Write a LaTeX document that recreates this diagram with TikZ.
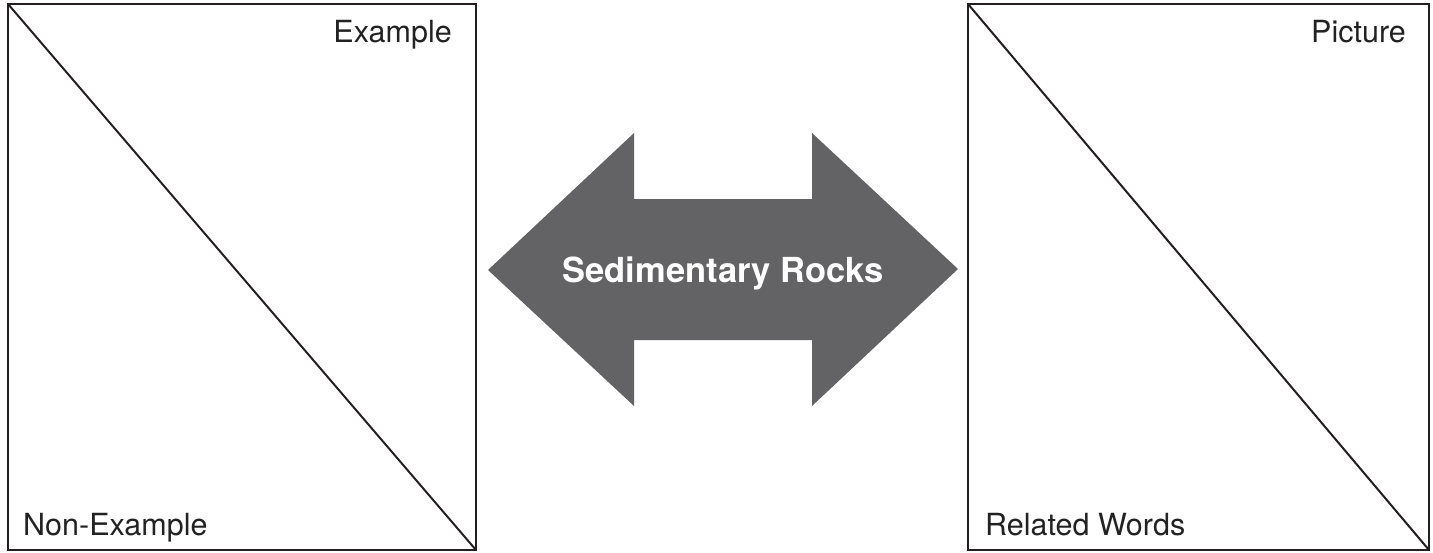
\documentclass[tikz,border=0pt]{standalone}
\usepackage{fontspec}
\setsansfont{TeX Gyre Heros}
\definecolor{framegray}{HTML}{231F20}
\definecolor{arrowgray}{HTML}{636365}
\definecolor{textgray}{HTML}{222222}
\tikzset{
	frame/.style = {draw=framegray, line width=2pt},
	corner/.style = {inner sep=0pt, text=textgray, font=\sffamily\fontsize{30.5}{36}\selectfont},
	title/.style = {inner sep=0pt, text=white, font=\sffamily\bfseries\fontsize{34.5}{40}\selectfont}
}
\begin{document}
\begin{tikzpicture}[x = 1pt, y = -1pt]
		\useasboundingbox (0,0) rectangle (1433,552);
		% left square
		\path [frame] (8,4) rectangle (476,550);
		\path [frame] (8,4) -- (476,550);
		\node [corner, anchor=base east] (example) at (452,42) {Example};
		\node [corner, anchor=base west] (nonexample) at (23,535) {Non-Example};
		% right square
		\path [frame] (968,4) rectangle (1429,550);
		\path [frame] (968,4) -- (1429,550);
		\node [corner, anchor=base east] (picture) at (1406,42) {Picture};
		\node [corner, anchor=base west] (words) at (985,535) {Related Words};
		% double arrow
		\path [fill=arrowgray] (488,270) -- (634,133) -- (634,199) -- (812,199) -- (812,133)
			-- (958,269) -- (812,406) -- (812,340) -- (634,340) -- (634,406) -- cycle;
		\node [title, anchor=base] (rocks) at (723,282) {Sedimentary Rocks};
	\end{tikzpicture}
\end{document}
